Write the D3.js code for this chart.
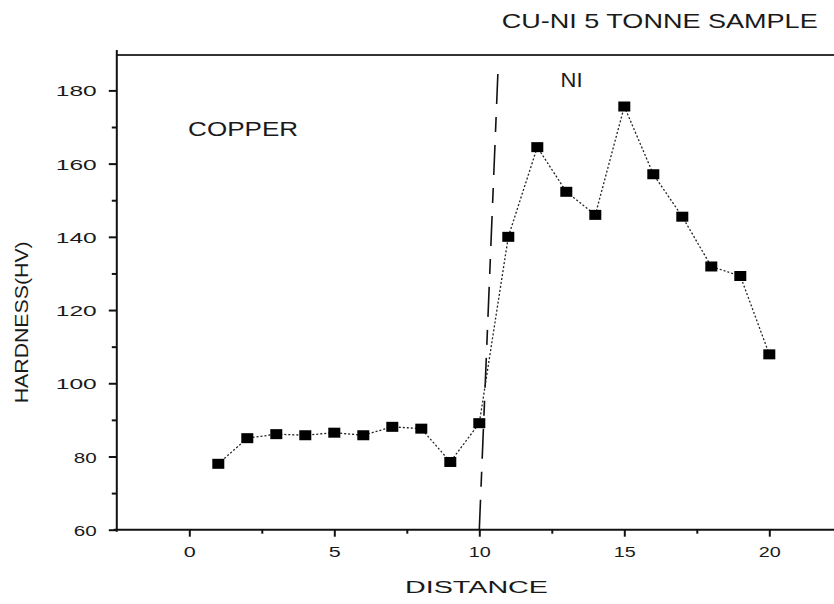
<!DOCTYPE html>
<html><head><meta charset="utf-8">
<script src="https://cdn.jsdelivr.net/npm/d3@7"></script>
<style>body{margin:0;background:#fff}svg{display:block}text{font-family:"Liberation Sans",Arial,sans-serif;fill:#1a1a1a}</style>
</head><body><svg id="c" width="834" height="604"></svg>
<script>
const distance = [1,2,3,4,5,6,7,8,9,10,11,12,13,14,15,16,17,18,19,20];
const hardness = [78,85,86.1,85.8,86.5,85.8,88.1,87.6,78.5,89.1,140,164.5,152.3,146,175.6,157.1,145.5,131.9,129.3,107.9];
const xTicks = [0,5,10,15,20];
const xMinor = [2.5,7.5,12.5,17.5];
const yTicks = [60,80,100,120,140,160,180];
const yMinor = [70,90,110,130,150,170];
const boundary = [[10,60],[10.655,187.4]];
const title = "CU-NI 5 TONNE SAMPLE";
const xLabel = "DISTANCE";
const yLabel = "HARDNESS(HV)";
const regionLabels = [{t:"COPPER",x:-0.04,y:167.5},{t:"NI",x:12.8,y:180.8}];

(function(){
const svg = d3.select("#c");
const x = d3.scaleLinear().domain([0,20]).range([189.3,769.3]);
const y = d3.scaleLinear().domain([60,180]).range([529.7,90.4]);
const pLeft = x(-2.5), pBottom = y(60), pTop = 55, pRight = 834;

// frame lines
svg.append("line").attr("x1",pLeft).attr("x2",pRight).attr("y1",pTop).attr("y2",pTop).attr("stroke","#333").attr("stroke-width",2);
svg.append("line").attr("x1",pLeft-3).attr("x2",pRight).attr("y1",pBottom).attr("y2",pBottom).attr("stroke","#111").attr("stroke-width",2);
svg.append("line").attr("x1",pLeft).attr("x2",pLeft).attr("y1",pTop-5).attr("y2",pBottom+2).attr("stroke","#111").attr("stroke-width",2);

// y axis
const ya = svg.append("g").attr("transform",`translate(${pLeft},0)`)
  .call(d3.axisLeft(y).tickValues(yTicks).tickSize(8).tickPadding(12));
ya.select(".domain").remove();
ya.selectAll("line").attr("stroke","#111").attr("stroke-width",2);
ya.selectAll("text").attr("font-size",15.4).attr("dy","0.36em")
  .each(function(d){ d3.select(this).attr("textLength", String(d).length===3?41:23).attr("lengthAdjust","spacingAndGlyphs"); });
const ym = svg.append("g").attr("transform",`translate(${pLeft},0)`)
  .call(d3.axisLeft(y).tickValues(yMinor).tickSize(5).tickFormat(""));
ym.select(".domain").remove();
ym.selectAll("line").attr("stroke","#111").attr("stroke-width",2);

// x axis
const xa = svg.append("g").attr("transform",`translate(0,${pBottom})`)
  .call(d3.axisBottom(x).tickValues(xTicks).tickSize(7).tickPadding(10));
xa.select(".domain").remove();
xa.selectAll("line").attr("stroke","#111").attr("stroke-width",2);
xa.selectAll("text").attr("font-size",15)
  .each(function(d){ d3.select(this).attr("textLength", String(d).length===2?22:12).attr("lengthAdjust","spacingAndGlyphs"); });
const xm = svg.append("g").attr("transform",`translate(0,${pBottom})`)
  .call(d3.axisBottom(x).tickValues(xMinor).tickSize(4).tickFormat(""));
xm.select(".domain").remove();
xm.selectAll("line").attr("stroke","#111").attr("stroke-width",2);

// boundary dashed line
svg.append("path").datum(boundary)
  .attr("d", d3.line().x(d=>x(d[0])).y(d=>y(d[1])))
  .attr("stroke","#111").attr("stroke-width",1.6).attr("fill","none")
  .attr("stroke-dasharray","30,13,15,13");

// data line
const pts = distance.map((d,i)=>[d,hardness[i]]);
svg.append("path").datum(pts)
  .attr("d", d3.line().x(d=>x(d[0])).y(d=>y(d[1])))
  .attr("stroke","#222").attr("stroke-width",1.3).attr("fill","none")
  .attr("stroke-dasharray","2,2");
svg.selectAll("rect.m").data(pts).join("rect").attr("class","m")
  .attr("x",d=>x(d[0])-6).attr("y",d=>y(d[1])-5).attr("width",12).attr("height",10).attr("fill","#000");

// texts
svg.append("text").attr("x",501.7).attr("y",28.3).attr("font-size",21)
  .attr("textLength",316).attr("lengthAdjust","spacingAndGlyphs").text(title);
svg.append("text").attr("x",405).attr("y",593.3).attr("font-size",16.3)
  .attr("textLength",143).attr("lengthAdjust","spacingAndGlyphs").text(xLabel);
svg.append("text").attr("transform","translate(28.3,403.3) rotate(-90)").attr("font-size",18.5)
  .attr("textLength",162).attr("lengthAdjust","spacingAndGlyphs").text(yLabel);
regionLabels.forEach(r=>{
  const t = svg.append("text").attr("x",x(r.x)).attr("y",y(r.y)).attr("font-size",r.t==="NI"?20:19.5).text(r.t);
  t.attr("textLength",r.t==="COPPER"?110:22).attr("lengthAdjust","spacingAndGlyphs");
});
})();
</script></body></html>
